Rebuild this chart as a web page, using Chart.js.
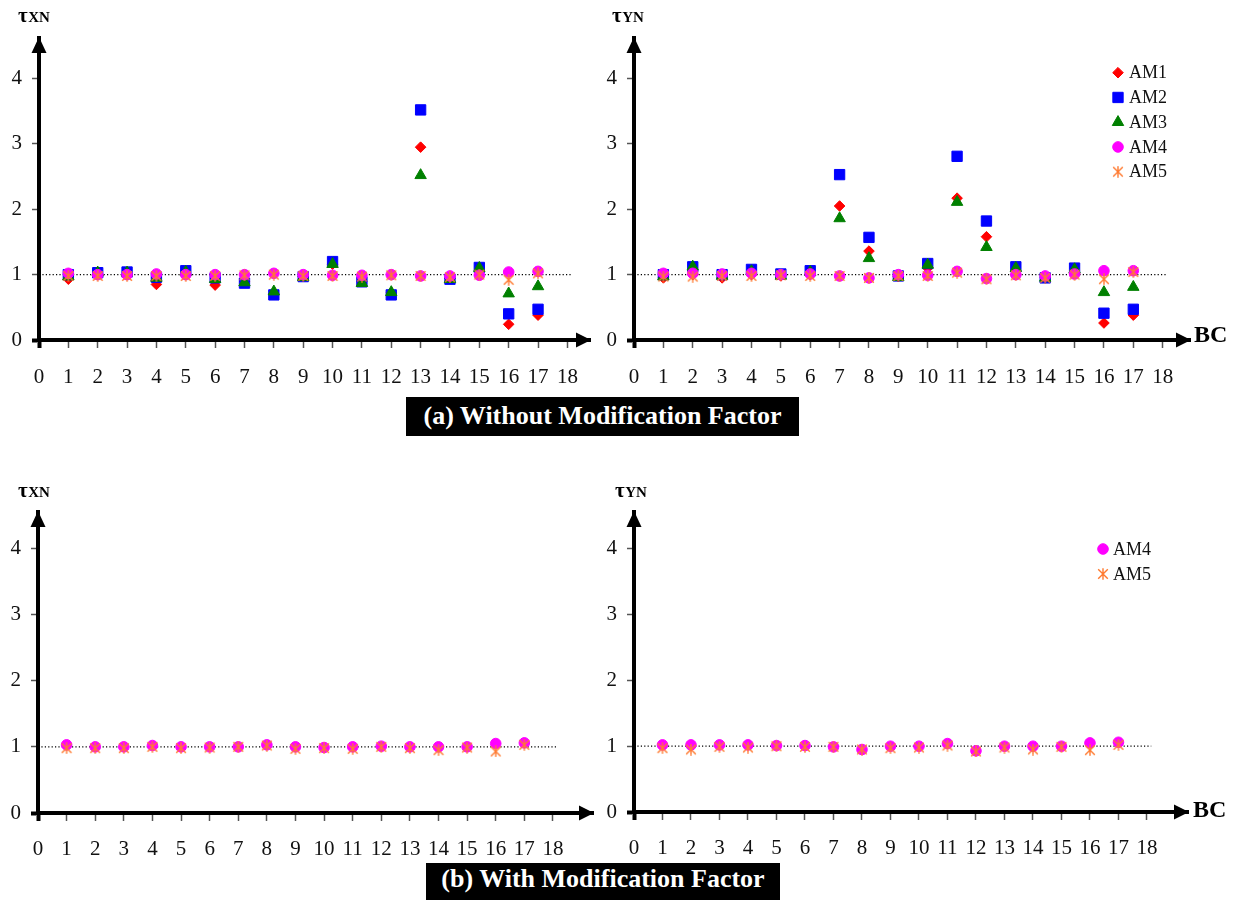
<!DOCTYPE html>
<html>
<head>
<meta charset="utf-8">
<script src="https://cdn.jsdelivr.net/npm/chart.js@4.4.1/dist/chart.umd.min.js"></script>
<style>
  html, body { margin: 0; padding: 0; background: #fff; }
  #page { position: relative; width: 1233px; height: 900px; overflow: hidden; background: #fff; }
  #page canvas { position: absolute; }
  .cap {
    position: absolute; background: #000; color: #fff; text-align: center; white-space: nowrap;
    font: bold 26px "Liberation Serif", "Times New Roman", serif;
  }
</style>
</head>
<body>
<div id="page">
  <canvas id="tauXN" width="600" height="400" style="left:0;top:0"></canvas>
  <canvas id="tauYN" width="633" height="400" style="left:600px;top:0"></canvas>
  <canvas id="tauXNmod" width="600" height="400" style="left:0;top:470px"></canvas>
  <canvas id="tauYNmod" width="633" height="400" style="left:600px;top:470px"></canvas>
  <div class="cap" style="left:406px;top:397px;width:393px;height:39px;line-height:37px">(a) Without Modification Factor</div>
  <div class="cap" style="left:426px;top:863px;width:354px;height:40px;line-height:31px">(b) With Modification Factor</div>
</div>
<script>
// Building cases on the horizontal axis
const bc = [1, 2, 3, 4, 5, 6, 7, 8, 9, 10, 11, 12, 13, 14, 15, 16, 17];
const xTickLabels = ['0', '1', '2', '3', '4', '5', '6', '7', '8', '9', '10', '11', '12', '13', '14', '15', '16', '17', '18'];
const yTickLabels = ['0', '1', '2', '3', '4'];

// τXN, without modification factor
const txnAM1 = [0.93, 1.00, 1.00, 0.85, 1.00, 0.84, 0.90, 0.71, 0.97, 1.16, 0.90, 0.72, 2.95, 0.94, 1.05, 0.24, 0.38];
const txnAM2 = [1.00, 1.03, 1.04, 0.96, 1.06, 0.95, 0.87, 0.69, 0.97, 1.20, 0.89, 0.69, 3.52, 0.93, 1.11, 0.40, 0.47];
const txnAM3 = [0.97, 1.03, 1.03, 0.95, 1.04, 0.93, 0.88, 0.74, 0.96, 1.16, 0.87, 0.73, 2.52, 0.93, 1.10, 0.71, 0.82];
const txnAM4 = [1.02, 1.00, 1.00, 1.01, 1.00, 1.00, 1.00, 1.02, 1.00, 0.99, 0.99, 1.00, 0.98, 0.98, 0.99, 1.04, 1.05];
const txnAM5 = [0.98, 0.98, 0.98, 0.98, 0.98, 0.98, 0.99, 1.00, 0.98, 0.98, 0.97, 0.99, 0.98, 0.96, 1.00, 0.92, 1.02];

// τYN, without modification factor
const tynAM1 = [0.95, 1.00, 0.95, 1.00, 0.98, 1.00, 2.05, 1.36, 0.97, 1.10, 2.17, 1.58, 1.00, 0.95, 1.02, 0.26, 0.38];
const tynAM2 = [1.00, 1.12, 1.00, 1.08, 1.01, 1.06, 2.53, 1.57, 0.98, 1.17, 2.81, 1.82, 1.12, 0.95, 1.10, 0.41, 0.47];
const tynAM3 = [0.97, 1.12, 0.98, 1.05, 0.98, 1.04, 1.86, 1.25, 0.96, 1.15, 2.11, 1.42, 1.10, 0.95, 1.08, 0.73, 0.81];
const tynAM4 = [1.02, 1.02, 1.01, 1.02, 1.00, 1.01, 0.98, 0.95, 1.00, 0.99, 1.05, 0.94, 1.00, 0.98, 1.01, 1.06, 1.06];
const tynAM5 = [0.97, 0.97, 0.98, 0.98, 0.99, 0.98, 0.98, 0.95, 0.98, 0.98, 1.03, 0.93, 0.99, 0.95, 1.00, 0.93, 1.04];

// With modification factor
const txnModAM4 = [1.03, 1.00, 1.00, 1.02, 1.00, 1.00, 1.00, 1.03, 1.00, 0.99, 1.00, 1.01, 1.00, 1.00, 1.00, 1.05, 1.06];
const txnModAM5 = [0.98, 0.98, 0.98, 1.00, 0.98, 0.99, 1.00, 1.02, 0.97, 0.98, 0.97, 1.00, 0.98, 0.95, 0.99, 0.93, 1.03];
const tynModAM4 = [1.02, 1.02, 1.02, 1.02, 1.01, 1.01, 0.99, 0.95, 1.00, 1.00, 1.04, 0.93, 1.00, 1.00, 1.00, 1.05, 1.06];
const tynModAM5 = [0.97, 0.95, 0.99, 0.98, 1.00, 0.99, 0.99, 0.95, 0.97, 0.98, 1.01, 0.92, 0.98, 0.95, 0.99, 0.94, 1.02];

// Dotted reference level τ = 1 and its extent along BC
const refLevel = 1;
const refSpan = [0, 18.15];

// Asterisk marker (X with a vertical bar)
function asteriskMarker(color, size) {
  const c = document.createElement('canvas');
  c.width = size; c.height = size;
  const g = c.getContext('2d');
  g.strokeStyle = color;
  g.lineWidth = 1.4;
  const m = size / 2, d = size / 2 - 1.2;
  g.beginPath();
  g.moveTo(m - d, m - d); g.lineTo(m + d, m + d);
  g.moveTo(m + d, m - d); g.lineTo(m - d, m + d);
  g.moveTo(m, 0.3); g.lineTo(m, size - 0.3);
  g.stroke();
  return c;
}

const markerStyles = {
  AM1: { color: '#FF0000', pointStyle: 'rectRot', radius: 5.3, order: 5 },
  AM2: { color: '#0000FF', pointStyle: 'rect', radius: 7.3, order: 4 },
  AM3: { color: '#008000', pointStyle: 'triangle', radius: 6.6, order: 3 },
  AM4: { color: '#FF00FF', pointStyle: 'circle', radius: 5.3, order: 2 },
  AM5: { color: '#FF7A30', pointStyle: asteriskMarker('#FF7A30', 12), radius: 6, order: 1 }
};

const serifFont = '"Liberation Serif", "Times New Roman", serif';

function drawMarker(ctx, st, x, y) {
  ctx.fillStyle = st.color;
  ctx.strokeStyle = st.color;
  ctx.lineWidth = 1;
  if (Chart.helpers && Chart.helpers.drawPoint) {
    Chart.helpers.drawPoint(ctx, { pointStyle: st.pointStyle, rotation: 0, radius: st.radius, borderWidth: 1 }, x, y);
  }
}

// Axis arrows, axis titles, "BC" label and the legend
const panelDecor = {
  id: 'panelDecor',
  afterDraw(chart, args, o) {
    const { ctx, chartArea: a } = chart;
    ctx.save();
    ctx.fillStyle = '#000';
    // vertical arrow head
    ctx.beginPath();
    ctx.moveTo(a.left, a.top - 1);
    ctx.lineTo(a.left - 7.5, a.top + 15);
    ctx.lineTo(a.left + 7.5, a.top + 15);
    ctx.closePath();
    ctx.fill();
    // horizontal arrow head
    ctx.beginPath();
    ctx.moveTo(a.right + 1, a.bottom);
    ctx.lineTo(a.right - 14, a.bottom - 7.5);
    ctx.lineTo(a.right - 14, a.bottom + 7.5);
    ctx.closePath();
    ctx.fill();

    // axis title τ with subscript letters
    ctx.fillStyle = '#000';
    ctx.textBaseline = 'alphabetic';
    ctx.textAlign = 'left';
    ctx.font = 'bold 21px ' + serifFont;
    ctx.fillText(o.title[0], o.titleX, o.titleY);
    const w = ctx.measureText(o.title[0]).width;
    ctx.font = 'bold 15px ' + serifFont;
    ctx.fillText(o.title[1], o.titleX + w + 0.5, o.titleY);

    if (o.bc) {
      ctx.font = 'bold 24px ' + serifFont;
      ctx.fillText('BC', o.bc.x, o.bc.y);
    }

    if (o.legend) {
      const L = o.legend;
      let row = 0;
      chart.data.datasets.forEach((ds) => {
        const st = markerStyles[ds.label];
        if (!st) return;
        const y = L.y + row * L.dy;
        drawMarker(ctx, st, L.x, y);
        ctx.fillStyle = '#111';
        ctx.font = '18px ' + serifFont;
        ctx.textBaseline = 'middle';
        ctx.textAlign = 'left';
        ctx.fillText(ds.label, L.textX, y + 1);
        row++;
      });
    }
    ctx.restore();
  }
};

const tickFont = { family: serifFont, size: 21 };

function buildPanel(id, p) {
  const datasets = p.series.map(([name, values]) => {
    const st = markerStyles[name];
    return {
      label: name,
      data: bc.map((x, i) => ({ x, y: values[i] })),
      pointStyle: st.pointStyle,
      pointRadius: st.radius,
      pointBorderWidth: 1,
      backgroundColor: st.color,
      borderColor: st.color,
      order: st.order,
      clip: false
    };
  });
  datasets.push({
    label: 'ref',
    data: refSpan.map((x) => ({ x, y: refLevel })),
    showLine: true,
    pointRadius: 0,
    borderColor: '#000',
    borderWidth: 1.2,
    borderDash: [1.2, 2.2],
    order: 10,
    clip: false
  });

  const tickW = (c) => (c.tick && c.tick.value === 0 ? 4 : 1.5);
  const tickC = (c) => (c.tick && c.tick.value === 0 ? '#000' : '#555');

  return new Chart(document.getElementById(id), {
    type: 'scatter',
    data: { datasets },
    options: {
      responsive: false,
      animation: false,
      events: [],
      layout: { padding: { top: p.top, right: p.right, left: 0, bottom: 0 } },
      plugins: {
        legend: { display: false },
        tooltip: { enabled: false },
        panelDecor: p.decor
      },
      scales: {
        x: {
          type: 'linear',
          min: 0,
          max: p.xMax,
          afterFit: (s) => { s.height = p.xHeight; },
          afterBuildTicks: (s) => { s.ticks = xTickLabels.map((_, i) => ({ value: i })); },
          ticks: {
            callback: (v) => xTickLabels[v],
            font: tickFont,
            color: '#111',
            padding: p.xPad,
            maxRotation: 0,
            autoSkip: false
          },
          grid: { drawOnChartArea: false, drawTicks: true, tickLength: 8, tickWidth: tickW, tickColor: tickC },
          border: { display: true, color: '#000', width: 4 }
        },
        y: {
          type: 'linear',
          min: 0,
          max: p.yMax,
          afterFit: (s) => { s.width = p.yWidth; },
          afterBuildTicks: (s) => { s.ticks = yTickLabels.map((_, i) => ({ value: i })); },
          ticks: {
            callback: (v) => yTickLabels[v],
            font: tickFont,
            color: '#111',
            padding: 10,
            autoSkip: false
          },
          grid: { drawOnChartArea: false, drawTicks: true, tickLength: 7, tickWidth: tickW, tickColor: tickC },
          border: { display: true, color: '#000', width: 4 }
        }
      }
    },
    plugins: [panelDecor]
  });
}

buildPanel('tauXN', {
  series: [['AM1', txnAM1], ['AM2', txnAM2], ['AM3', txnAM3], ['AM4', txnAM4], ['AM5', txnAM5]],
  top: 38, right: 10, yWidth: 39, xHeight: 60, xMax: 18.77, yMax: 4.62, xPad: 17,
  decor: { title: ['τ', 'XN'], titleX: 18, titleY: 22 }
});

buildPanel('tauYN', {
  series: [['AM1', tynAM1], ['AM2', tynAM2], ['AM3', tynAM3], ['AM4', tynAM4], ['AM5', tynAM5]],
  top: 38, right: 43, yWidth: 34, xHeight: 60, xMax: 18.93, yMax: 4.62, xPad: 17,
  decor: {
    title: ['τ', 'YN'], titleX: 12, titleY: 22,
    bc: { x: 594, y: 342 },
    legend: { x: 518, textX: 529, y: 72.7, dy: 24.75 }
  }
});

buildPanel('tauXNmod', {
  series: [['AM4', txnModAM4], ['AM5', txnModAM5]],
  top: 42, right: 7, yWidth: 38, xHeight: 57, xMax: 19.4, yMax: 4.55, xPad: 16,
  decor: { title: ['τ', 'XN'], titleX: 18, titleY: 27 }
});

buildPanel('tauYNmod', {
  series: [['AM4', tynModAM4], ['AM5', tynModAM5]],
  top: 42, right: 45, yWidth: 34, xHeight: 58, xMax: 19.44, yMax: 4.56, xPad: 16,
  decor: {
    title: ['τ', 'YN'], titleX: 15, titleY: 27,
    bc: { x: 593, y: 347 },
    legend: { x: 503, textX: 513, y: 79, dy: 25 }
  }
});
</script>
</body>
</html>
